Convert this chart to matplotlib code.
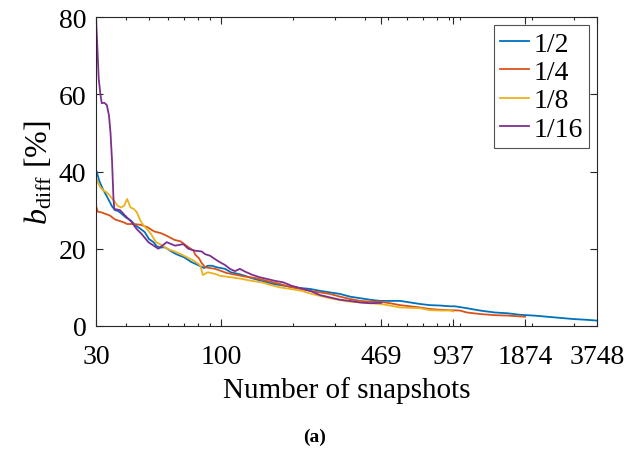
import matplotlib
matplotlib.use("Agg")
import matplotlib.pyplot as plt
from matplotlib.ticker import FixedLocator, NullFormatter

plt.rcParams['font.family'] = ['Liberation Serif', 'DejaVu Serif']
plt.rcParams['mathtext.fontset'] = 'custom'
plt.rcParams['mathtext.rm'] = 'Liberation Serif'
plt.rcParams['mathtext.it'] = 'Liberation Serif:italic'
plt.rcParams['mathtext.bf'] = 'Liberation Serif:bold'

labels = ["1/2", "1/4", "1/8", "1/16"]
colors = ["#0072BD", "#D95319", "#EDB120", "#7E2F8E"]

x_half = [30, 30.5, 31, 32, 33, 34, 35, 36, 37, 38, 40, 42, 44, 46, 48, 50, 52, 54, 56, 58,
          60, 62, 65, 70, 75, 80, 85, 88, 92, 96, 100, 104, 110, 118, 126, 136, 148, 165,
          185, 200, 218, 236, 260, 286, 315, 347, 382, 421, 463, 510, 562, 619, 681, 750,
          826, 910, 955, 1070, 1215, 1400, 1580, 1787, 2040, 2320, 2627, 2990, 3400, 3748]
y_half = [40.5, 39.0, 37.5, 35.5, 34.0, 32.5, 31.0, 30.0, 29.8, 29.3, 28.1, 27.3, 26.0, 25.2,
          24.3, 22.5, 21.8, 20.6, 20.3, 20.4, 19.9, 19.3, 18.6, 17.8, 16.6, 15.8, 15.0, 15.6,
          15.6, 15.2, 15.0, 14.8, 13.9, 13.5, 13.0, 12.3, 11.7, 10.9, 10.4, 10.0, 9.8, 9.6,
          9.1, 8.7, 8.3, 7.6, 7.2, 6.8, 6.5, 6.5, 6.5, 6.1, 5.7, 5.4, 5.3, 5.1, 5.1, 4.6,
          4.0, 3.5, 3.3, 2.9, 2.7, 2.4, 2.1, 1.8, 1.6, 1.4]

x_quarter = [30, 30.5, 31.7, 32.3, 34.3, 36, 39.3, 40.5, 43.2, 46.1, 49.2, 52.5, 56.3, 60,
             63.9, 67.8, 72.3, 76.8, 78, 81, 83, 86, 94.5, 106, 126, 140, 160, 176, 193,
             214, 236, 260, 286, 315, 347, 382, 421, 463, 510, 562, 619, 681, 750, 826,
             910, 1000, 1070, 1215, 1400, 1580, 1874]
y_quarter = [31.1, 29.6, 29.4, 29.2, 28.6, 27.6, 26.8, 26.4, 26.4, 26.2, 25.6, 24.5, 24.0,
             23.2, 22.3, 21.9, 20.6, 19.5, 18.5, 17.5, 16.3, 15.2, 14.8, 13.7, 12.8, 12.4,
             11.5, 10.9, 10.2, 9.6, 9.1, 8.7, 8.3, 7.6, 7.0, 6.5, 6.3, 6.3, 5.9, 5.4, 5.1,
             4.8, 4.4, 4.2, 4.1, 4.0, 3.5, 3.1, 2.8, 2.7, 2.4]

x_eighth = [30, 30.5, 31.3, 32.3, 33.3, 34.3, 35.7, 37, 38.2, 39.3, 40.5, 41.8, 43.2, 44.5,
            46, 47.5, 49, 51, 53.5, 57, 60, 64, 68, 72, 77, 80, 82, 84, 88, 94.5, 99, 111,
            122, 134, 148, 160, 176, 195, 218, 236, 260, 286, 315, 347, 382, 421, 463, 510,
            562, 619, 681, 750, 826, 910, 937]
y_eighth = [38.5, 37.2, 35.9, 35.0, 34.6, 33.7, 32.4, 31.1, 30.7, 31.1, 32.9, 30.7, 30.3,
            29.4, 27.3, 26.0, 25.1, 23.8, 21.7, 20.8, 19.9, 19.3, 18.6, 17.8, 16.9, 16.2,
            15.6, 13.2, 13.9, 13.5, 13.0, 12.6, 12.2, 11.7, 11.3, 10.7, 10.0, 9.6, 9.1, 8.4,
            7.8, 7.2, 6.7, 6.3, 6.1, 5.9, 5.7, 5.3, 4.8, 4.7, 4.6, 4.1, 4.0, 4.0, 3.8]

x_sixteenth = [30, 30.4, 30.8, 31.3, 31.7, 32.5, 33.3, 34, 34.5, 35, 35.5, 35.8, 37.8, 39.7,
               42.3, 44.4, 46.6, 49.7, 54.7, 59.3, 64.3, 69.6, 73, 77.9, 83.1, 85.8, 90,
               94.5, 99.1, 104, 109, 114.5, 120, 126, 134.6, 145.8, 155.5, 168, 182.4, 198,
               218, 236, 260, 286, 315, 347, 382, 421, 469]
y_sixteenth = [80, 72, 64, 60, 57.7, 57.8, 57.2, 54.5, 50, 43, 33, 30.3, 30, 28.6, 26.9, 25.1,
               23.8, 21.7, 20, 21.7, 20.8, 21.2, 20, 19.5, 19.3, 18.6, 18.2, 17.3, 16.5, 15.8,
               14.8, 14.2, 14.8, 14.1, 13.3, 12.6, 12.2, 11.7, 11.3, 10.4, 9.7, 9.1, 8.0, 7.4,
               6.8, 6.5, 6.1, 5.9, 6.0]

major_ticks = [30, 100, 469, 937, 1874, 3748]
minor_ticks = [40, 50, 60, 70, 80, 90, 200, 300, 400, 500, 600, 700, 800, 900,
               1000, 2000, 3000]
y_ticks = [0, 20, 40, 60, 80]

fig = plt.figure(figsize=(6.29, 4.52), dpi=100)
ax = fig.add_axes([96/629, 1-327/452, 501/629, 309/452])

series = [(x_half, y_half), (x_quarter, y_quarter), (x_eighth, y_eighth),
          (x_sixteenth, y_sixteenth)]
for (xs, ys), lab, c in zip(series, labels, colors):
    ax.plot(xs, ys, color=c, lw=1.3, label=lab)

ax.set_xscale('log')
ax.set_xlim(30, 3748)
ax.set_ylim(0, 80)
ax.xaxis.set_major_locator(FixedLocator(major_ticks))
ax.xaxis.set_minor_locator(FixedLocator(minor_ticks))
ax.xaxis.set_minor_formatter(NullFormatter())
ax.set_xticklabels([str(t) for t in major_ticks])
ax.set_yticks(y_ticks)
ax.tick_params(which='both', direction='in', top=True, right=True, labelsize=20,
               width=0.8, color='#262626')
ax.tick_params(which='major', length=5)
ax.tick_params(which='minor', length=2.5)
ax.tick_params(axis='x', which='major', pad=13)
ax.tick_params(axis='y', which='major', pad=7)
for s in ax.spines.values():
    s.set_linewidth(0.8)
    s.set_color('#262626')

ax.set_xlabel('Number of snapshots', fontsize=21, labelpad=5)
ax.set_ylabel(r'$b_{\mathrm{diff}}$ [%]', fontsize=23, labelpad=3)

leg = ax.legend(loc='upper right', fontsize=20, frameon=True, fancybox=False,
                edgecolor='#262626', handlelength=1.05, handletextpad=0.15,
                borderpad=0.22, labelspacing=0.1, borderaxespad=0.3)
leg.get_frame().set_linewidth(0.8)

fig.text(0.5, 1-437/452, '(a)', ha='center', va='center', fontsize=14,
         fontweight='bold')

fig.savefig('out.png', dpi=100)
